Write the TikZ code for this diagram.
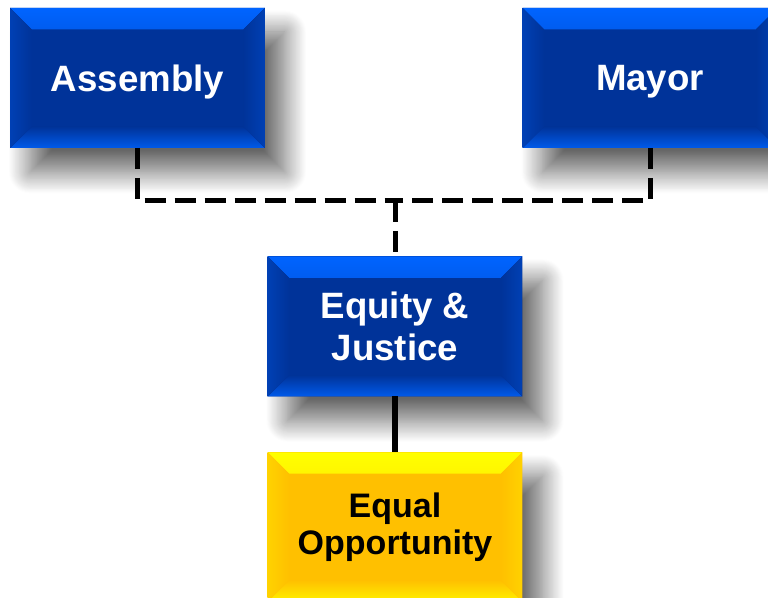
\documentclass[tikz,border=0pt]{standalone}
\usepackage{fontspec}
\setmainfont{Liberation Sans}
\usetikzlibrary{shadows.blur}
\definecolor{boxblue}{RGB}{0,51,153}
\definecolor{bevblue}{RGB}{0,100,255}
\definecolor{sideblue}{RGB}{0,64,180}
\definecolor{boxgold}{RGB}{255,192,0}
\definecolor{bevgold}{RGB}{255,255,0}
\definecolor{sidegold}{RGB}{255,210,0}
\tikzset{bevelbox/.style n args = {3}{fill = #1, inner sep = 0, outer sep = 0,
                                      minimum width = 191pt, minimum height = 105pt,
                                      align = center,
                                      blur shadow = {shadow xshift = 15pt, shadow yshift = -18pt,
                                                     shadow blur radius = 16pt, shadow blur steps = 24,
                                                     shadow opacity = 60},
                                      path picture = {
    \fill [top color = #2, bottom color = #1]
      (path picture bounding box.north west) -- (path picture bounding box.north east)
      -- ([shift={(-16pt,-16pt)}]path picture bounding box.north east)
      -- ([shift={(16pt,-16pt)}]path picture bounding box.north west) -- cycle;
    \fill [top color = #1, bottom color = #2!80!#1]
      (path picture bounding box.south west) -- (path picture bounding box.south east)
      -- ([shift={(-16pt,16pt)}]path picture bounding box.south east)
      -- ([shift={(16pt,16pt)}]path picture bounding box.south west) -- cycle;
    \fill [left color = #3, right color = #1]
      (path picture bounding box.north west) -- (path picture bounding box.south west)
      -- ([shift={(16pt,16pt)}]path picture bounding box.south west)
      -- ([shift={(16pt,-16pt)}]path picture bounding box.north west) -- cycle;
    \fill [left color = #1, right color = #3]
      (path picture bounding box.north east) -- (path picture bounding box.south east)
      -- ([shift={(-16pt,16pt)}]path picture bounding box.south east)
      -- ([shift={(-16pt,-16pt)}]path picture bounding box.north east) -- cycle;
  }}}
\tikzset{bluebox/.style = {bevelbox = {boxblue}{bevblue}{sideblue}, text = white,
                           font = \bfseries\fontsize{27.5}{31.5}\selectfont}}
\tikzset{goldbox/.style = {bevelbox = {boxgold}{bevgold}{sidegold}, text = black,
                           minimum height = 112pt,
                           font = \bfseries\fontsize{25.5}{28}\selectfont}}
\tikzset{dashline/.style = {line width = 3.75pt, dash pattern = on 16pt off 6.5pt}}
\tikzset{solidline/.style = {line width = 4.5pt}}

\begin{document}
\begin{tikzpicture}[x = 0.75pt, y = -0.75pt]
    \useasboundingbox (0, 0) rectangle (768, 598);
    \clip (0, 0) rectangle (768, 598);

    \node [bluebox] (assembly) at (137.5, 78) {\raisebox{-3pt}[\height][\depth]{Assembly}};
    \node [bluebox] (mayor) at (650, 78) {\raisebox{-3pt}[\height][\depth]{Mayor}};
    \node [bluebox] (equity) at (395, 326.5) {Equity \&\\Justice};
    \node [goldbox] (eeo) at (395, 527) {Equal\\Opportunity};

    \coordinate (join) at (395, 201);
    \draw [dashline] (assembly.south) |- (join);
    \draw [dashline] (mayor.south) |- (join);
    \draw [dashline] (join) -- (equity.north);
    \draw [solidline] (equity.south) -- (eeo.north);
  \end{tikzpicture}
\end{document}
